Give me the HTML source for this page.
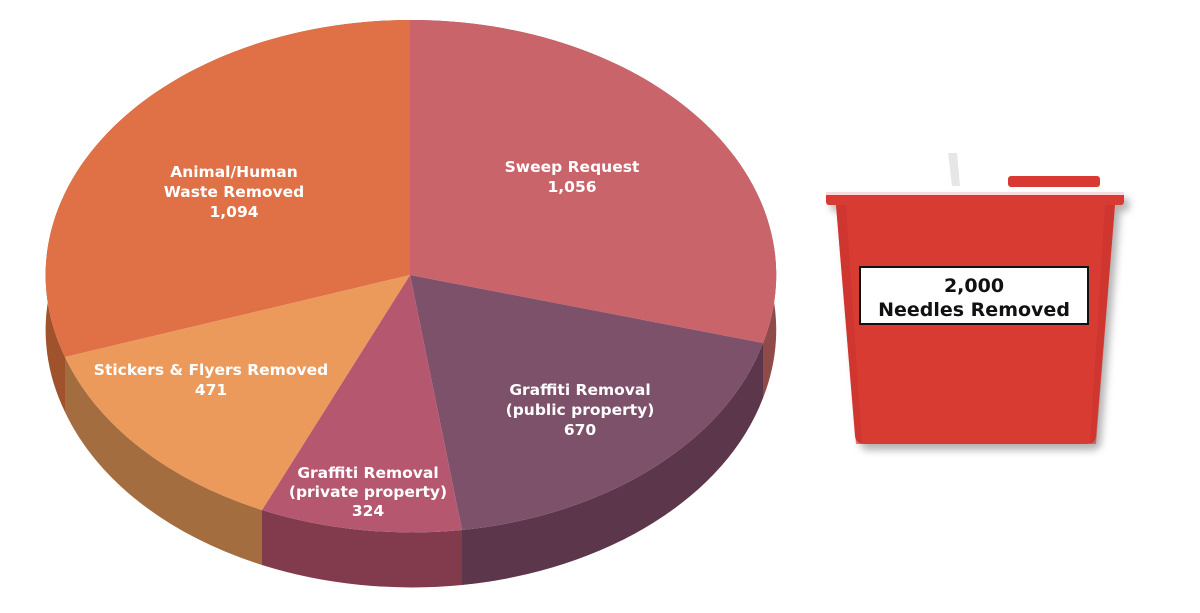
<!DOCTYPE html>
<html><head><style>
body{margin:0;width:1200px;height:613px;background:#fff;overflow:hidden}
svg{display:block}
text{font-family:"DejaVu Sans","Liberation Sans",sans-serif;font-weight:bold;fill:#fff;font-size:15.5px;text-anchor:middle}
</style></head><body>
<svg width="1200" height="613" viewBox="0 0 1200 613">
<defs>
<filter id="sh" x="-10%" y="-10%" width="130%" height="130%"><feDropShadow dx="5" dy="6" stdDeviation="4" flood-color="#000" flood-opacity="0.3"/></filter>
</defs>
<path d="M410,20 A365,255 0 0 1 763,343 L763,398 A365,255 0 0 0 410,75 Z" fill="#8f4a4a"/>
<path d="M763,343 A365,255 0 0 1 462,530 L462,585 A365,255 0 0 0 763,398 Z" fill="#5c364a"/>
<path d="M462,530 A365,255 0 0 1 262,510 L262,565 A365,255 0 0 0 462,585 Z" fill="#823a4d"/>
<path d="M262,510 A365,255 0 0 1 65,357 L65,412 A365,255 0 0 0 262,565 Z" fill="#a46d40"/>
<path d="M65,357 A365,255 0 0 1 410,20 L410,75 A365,255 0 0 0 65,412 Z" fill="#a0522d"/>
<path d="M410,275 L410,20 A365,255 0 0 1 763,343 Z" fill="#c9646b"/>
<path d="M410,275 L763,343 A365,255 0 0 1 462,530 Z" fill="#7e516b"/>
<path d="M410,275 L462,530 A365,255 0 0 1 262,510 Z" fill="#b5586f"/>
<path d="M410,275 L262,510 A365,255 0 0 1 65,357 Z" fill="#eb9a5c"/>
<path d="M410,275 L65,357 A365,255 0 0 1 410,20 Z" fill="#e07045"/>
<text x="234" y="177">Animal/Human</text>
<text x="234" y="197">Waste Removed</text>
<text x="234" y="217">1,094</text>
<text x="572" y="172">Sweep Request</text>
<text x="572" y="192">1,056</text>
<text x="211" y="375">Stickers &amp; Flyers Removed</text>
<text x="211" y="395">471</text>
<text x="580" y="395">Graffiti Removal</text>
<text x="580" y="415">(public property)</text>
<text x="580" y="435">670</text>
<text x="368" y="478">Graffiti Removal</text>
<text x="368" y="497">(private property)</text>
<text x="368" y="516">324</text>
<path d="M948,153 L957,153 L960,186 L952,186 Z" fill="#e6e6e6"/>
<rect x="1008" y="176" width="92" height="11" rx="3" fill="#d83a33"/>
<g filter="url(#sh)">
<path d="M836,205 L1115,205 L1096,436 Q1095,444 1087,444 L864,444 Q856,444 855,436 Z" fill="#d83a33"/>
<rect x="826" y="192" width="298" height="13" rx="3" fill="#d83a33"/>
</g>
<rect x="826" y="192" width="298" height="3" fill="#f6dcdc"/>
<path d="M836,205 L846,205 L862,444 L856,444 Z" fill="#c9332d" opacity="0.6"/>
<path d="M1115,205 L1105,205 L1090,444 L1096,444 Z" fill="#c9332d" opacity="0.6"/>
<rect x="860" y="267" width="228" height="57" fill="#fff" stroke="#111" stroke-width="2"/>
<text x="974" y="292" style="fill:#111;font-size:19px">2,000</text>
<text x="974" y="316" style="fill:#111;font-size:19px">Needles Removed</text>
</svg>
</body></html>
